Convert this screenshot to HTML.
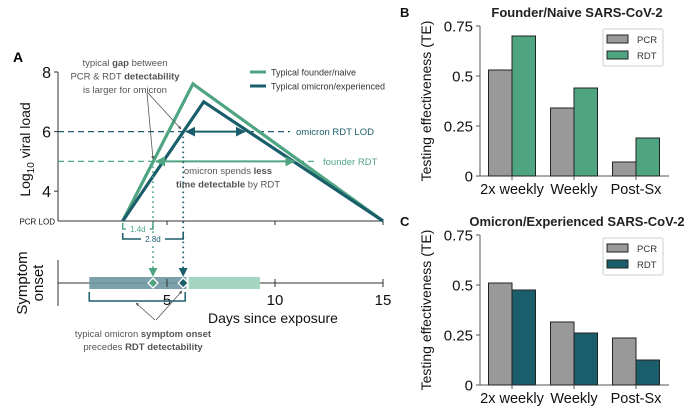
<!DOCTYPE html>
<html><head><meta charset="utf-8"><style>
body{margin:0;background:#fff}
svg{display:block;font-family:"Liberation Sans",Arial,sans-serif}
</style></head><body>
<svg id="fig" width="700" height="413" viewBox="0 0 700 413">
<defs>
<marker id="ahO" viewBox="0 0 10 10" refX="9" refY="5" markerWidth="5" markerHeight="5" orient="auto-start-reverse"><path d="M0,0L10,5L0,10z" fill="#1b5e6b"/></marker>
<marker id="ahF" viewBox="0 0 10 10" refX="9" refY="5" markerWidth="5" markerHeight="5" orient="auto-start-reverse"><path d="M0,0L10,5L0,10z" fill="#4fa582"/></marker>
<marker id="ahG" viewBox="0 0 10 10" refX="9" refY="5" markerWidth="4" markerHeight="4" orient="auto"><path d="M0,0L10,5L0,10z" fill="#555"/></marker>
</defs>
<g id="panelA">
<text x="13" y="62" font-size="14" font-weight="bold">A</text>
<g id="aAxes"></g>
<g id="aMarks"></g>
<text x="125" y="66" font-size="9.5" fill="#555" text-anchor="middle"><tspan x="125">typical <tspan font-weight="bold">gap</tspan> between</tspan><tspan x="125" dy="13.5">PCR &amp; RDT <tspan font-weight="bold">detectability</tspan></tspan><tspan x="125" dy="13.5">is larger for omicron</tspan></text>
<line x1="147" y1="93" x2="153" y2="159" stroke="#555" stroke-width="0.8" marker-end="url(#ahG)"/>
<line x1="148" y1="93" x2="181" y2="129" stroke="#555" stroke-width="0.8" marker-end="url(#ahG)"/>
<text x="228" y="174" font-size="9.5" fill="#555" text-anchor="middle"><tspan x="228">omicron spends <tspan font-weight="bold">less</tspan></tspan><tspan x="228" dy="13.5"><tspan font-weight="bold">time detectable</tspan> by RDT</tspan></text>
<g>
<line x1="250" y1="72" x2="266" y2="72" stroke="#4fa582" stroke-width="3"/>
<text x="271" y="75.5" font-size="9" fill="#333">Typical founder/naive</text>
<line x1="250" y1="86" x2="266" y2="86" stroke="#1b5e6b" stroke-width="3"/>
<text x="271" y="89.5" font-size="9" fill="#333">Typical omicron/experienced</text>
</g>
<text x="143" y="337" font-size="9.5" fill="#555" text-anchor="middle"><tspan x="143">typical omicron <tspan font-weight="bold">symptom onset</tspan></tspan><tspan x="143" dy="13">precedes <tspan font-weight="bold">RDT detectability</tspan></tspan></text>
<line x1="155" y1="320" x2="136" y2="303" stroke="#555" stroke-width="0.8" marker-end="url(#ahG)"/>
<line x1="156" y1="320" x2="182" y2="291" stroke="#555" stroke-width="0.8" marker-end="url(#ahG)"/>
</g>
<g id="panelB"></g>
<g id="panelC"></g>
</svg>
<script>
// Panel A data
const vlDays = [2.95, 6.2, 15];
const founderLoad = [3, 7.6, 3];
const omicronDays = [2.95, 6.7, 15];
const omicronLoad = [3, 7.0, 3];
const founderRDT = 5;
const omicronRDT = 6;
const aYTicks = [4, 6, 8];
const aXTicks = [5, 10, 15];
const founderDetectDay = 4.35;
const omicronDetectDay = 5.75;
const onsetDarkRange = [1.4, 5.9];
const onsetLightRange = [6.0, 9.3];
// Panel B/C data
const categories = ["2x weekly", "Weekly", "Post-Sx"];
const founderPCR = [0.53, 0.34, 0.07];
const founderRDTte = [0.70, 0.44, 0.19];
const omicronPCR = [0.51, 0.315, 0.235];
const omicronRDTte = [0.475, 0.26, 0.125];
const teTicks = [0, 0.25, 0.5, 0.75];
const teTickLabels = ["0", "0.25", "0.5", "0.75"];

const NS = "http://www.w3.org/2000/svg";
function mk(parent, tag, attrs, text){
  const e = document.createElementNS(NS, tag);
  for (const k in attrs) e.setAttribute(k, attrs[k]);
  if (text !== undefined) e.textContent = text;
  parent.appendChild(e); return e;
}
const FC = "#4fa582", OC = "#1b5e6b";
const xA = d => 59 + d * 21.6;
const yA = v => 221 - (v - 3) * 29.8;

const ax = document.getElementById("aAxes");
let e;
e = mk(ax, "line", {x1:58,y1:yA(8),x2:58,y2:yA(3),stroke:"#333","stroke-width":1});


e = mk(ax, "line", {x1:58,y1:yA(3),x2:xA(15),y2:yA(3),stroke:"#333","stroke-width":1});


aYTicks.forEach(t => {
  mk(ax, "line", {x1:54,y1:yA(t),x2:58,y2:yA(t),stroke:"#333"});
  e = mk(ax, "text", {x:51,y:yA(t)+6,"font-size":16,"text-anchor":"end",fill:"#111"}, String(t));
  
  
});
e = mk(ax, "text", {x:55,y:yA(3)+3.5,"font-size":8,"text-anchor":"end",fill:"#111"}, "PCR LOD");


aXTicks.forEach(t => { mk(ax, "line", {x1:xA(t),y1:yA(3),x2:xA(t),y2:yA(3)+4,stroke:"#333"}); });
e = mk(ax, "text", {x:0,y:0,"font-size":14,"text-anchor":"middle",fill:"#111",transform:"translate(30,"+yA(5.4)+") rotate(-90)"});
e.innerHTML = 'Log<tspan font-size="10" dy="4">10</tspan><tspan dy="-4"> viral load</tspan>';



const mg = document.getElementById("aMarks");
e = mk(mg, "line", {x1:58,y1:yA(omicronRDT),x2:290,y2:yA(omicronRDT),stroke:OC,"stroke-width":1.3,"stroke-dasharray":"6,4"});


e = mk(mg, "text", {x:296,y:yA(omicronRDT)+3.5,"font-size":9.5,fill:OC}, "omicron RDT LOD");


e = mk(mg, "line", {x1:58,y1:yA(founderRDT),x2:318,y2:yA(founderRDT),stroke:FC,"stroke-width":1.3,"stroke-dasharray":"6,4"});


e = mk(mg, "text", {x:323,y:yA(founderRDT)+3.5,"font-size":9.5,fill:FC}, "founder RDT");


e = mk(mg, "polyline", {points: vlDays.map((d,i)=>xA(d)+","+yA(founderLoad[i])).join(" "), fill:"none", stroke:FC, "stroke-width":3.2});


e = mk(mg, "polyline", {points: omicronDays.map((d,i)=>xA(d)+","+yA(omicronLoad[i])).join(" "), fill:"none", stroke:OC, "stroke-width":3.2});


e = mk(mg, "line", {x1:xA(omicronDetectDay)+3,y1:yA(omicronRDT),x2:xA(8.6),y2:yA(omicronRDT),stroke:OC,"stroke-width":2,"marker-start":"url(#ahO)","marker-end":"url(#ahO)"});


e = mk(mg, "line", {x1:xA(founderDetectDay)+3,y1:yA(founderRDT),x2:xA(10.9),y2:yA(founderRDT),stroke:FC,"stroke-width":2,"marker-start":"url(#ahF)","marker-end":"url(#ahF)"});


e = mk(mg, "line", {x1:xA(founderDetectDay),y1:yA(founderRDT),x2:xA(founderDetectDay),y2:276,stroke:FC,"stroke-width":1.8,"stroke-dasharray":"1.5,3.5","marker-end":"url(#ahF)"});


e = mk(mg, "line", {x1:xA(omicronDetectDay),y1:yA(omicronRDT),x2:xA(omicronDetectDay),y2:276,stroke:OC,"stroke-width":1.8,"stroke-dasharray":"1.5,3.5","marker-end":"url(#ahO)"});


function bracket(x1,x2,y,c,label,name){
  const g = mk(mg,"g",{});
  
  
  mk(g,"polyline",{points:`${x1},${y-6} ${x1},${y} ${x2},${y} ${x2},${y-6}`,fill:"none",stroke:c,"stroke-width":1.5});
  const mx=(x1+x2)/2;
  mk(g,"rect",{x:mx-12,y:y-5,width:24,height:10,fill:"#fff"});
  mk(g,"text",{x:mx,y:y+3,"font-size":8,"text-anchor":"middle",fill:c},label);
}
bracket(xA(vlDays[0]),xA(founderDetectDay),229,FC,(founderDetectDay-vlDays[0]).toFixed(1)+"d","founder-gap-bracket");
bracket(xA(vlDays[0]),xA(omicronDetectDay),239,OC,(omicronDetectDay-vlDays[0]).toFixed(1)+"d","omicron-gap-bracket");
const ys = 283;
e = mk(mg,"line",{x1:58,y1:260,x2:58,y2:306,stroke:"#333"});


e = mk(mg,"line",{x1:58,y1:ys,x2:xA(15),y2:ys,stroke:"#333"});


e = mk(mg,"rect",{x:xA(onsetDarkRange[0]),y:ys-6,width:xA(onsetDarkRange[1])-xA(onsetDarkRange[0]),height:12,fill:"#6f97a1",opacity:0.9});


e = mk(mg,"rect",{x:xA(onsetLightRange[0]),y:ys-6,width:xA(onsetLightRange[1])-xA(onsetLightRange[0]),height:12,fill:"#a4d6c1"});


aXTicks.forEach(t => {
  mk(mg,"line",{x1:xA(t),y1:ys-4,x2:xA(t),y2:ys+4,stroke:"#333"});
  e = mk(mg,"text",{x:xA(t),y:ys+22,"font-size":15,"text-anchor":"middle",fill:"#111"},String(t));
  
  
});
[[founderDetectDay,FC,"founder-detect-diamond"],[omicronDetectDay,OC,"omicron-detect-diamond"]].forEach(([d,c,n])=>{
  const x=xA(d);
  e = mk(mg,"polygon",{points:`${x},${ys-5} ${x+5},${ys} ${x},${ys+5} ${x-5},${ys}`,fill:c,stroke:"#fff","stroke-width":1.3});
  
  
});
e = mk(mg,"polyline",{points:`${xA(onsetDarkRange[0])},${ys+9} ${xA(onsetDarkRange[0])},${ys+18} ${xA(omicronDetectDay)+2},${ys+18} ${xA(omicronDetectDay)+2},${ys+9}`,fill:"none",stroke:OC,"stroke-width":1.5});


e = mk(mg,"text",{x:273,y:323,"font-size":14,"text-anchor":"middle",fill:"#111"},"Days since exposure");


e = mk(mg,"text",{x:0,y:0,"font-size":15,"text-anchor":"middle",fill:"#111",transform:"translate(0,283) rotate(-90)"});
e.innerHTML='<tspan x="0" y="27">Symptom</tspan><tspan x="0" y="43">onset</tspan>';



function barPanel(id, letter, title, top, pcr, rdt, rdtColor){
  const g = document.getElementById(id);
  const y0 = top + 150, yS = v => y0 - v*200;
  const x0 = 480;
  let t;
  t = mk(g,"text",{x:400,y:top-9,"font-size":13,"font-weight":"bold",fill:"#111"},letter);
  
  
  t = mk(g,"text",{x:577,y:top-9,"font-size":13,"font-weight":"bold","text-anchor":"middle",fill:"#222"},title);
  
  
  mk(g,"line",{x1:x0,y1:yS(0.75),x2:x0,y2:y0,stroke:"#555","stroke-width":1});
  mk(g,"line",{x1:x0,y1:y0,x2:669,y2:y0,stroke:"#555","stroke-width":1});
  teTicks.forEach((v,i)=>{
    mk(g,"line",{x1:x0-4,y1:yS(v),x2:x0,y2:yS(v),stroke:"#555"});
    t = mk(g,"text",{x:x0-7,y:yS(v)+5.5,"font-size":15,"text-anchor":"end",fill:"#111"},teTickLabels[i]);
    
    
  });
  t = mk(g,"text",{x:0,y:0,"font-size":14,"text-anchor":"middle",fill:"#111",transform:`translate(431,${y0-75}) rotate(-90)`},"Testing effectiveness (TE)");
  
  
  const bw = 23.5;
  categories.forEach((c,i)=>{
    const cx = 512 + i*62;
    let r = mk(g,"rect",{x:cx-bw,y:yS(pcr[i]),width:bw,height:y0-yS(pcr[i]),fill:"#999",stroke:"#222","stroke-width":1});
    
    
    r = mk(g,"rect",{x:cx,y:yS(rdt[i]),width:bw,height:y0-yS(rdt[i]),fill:rdtColor,stroke:"#222","stroke-width":1});
    
    
    mk(g,"line",{x1:cx,y1:y0,x2:cx,y2:y0+4,stroke:"#555"});
    t = mk(g,"text",{x:cx,y:y0+18,"font-size":14.5,"text-anchor":"middle",fill:"#111"},c);
    
    
  });
  const lg = mk(g,"g",{});
  
  
  mk(lg,"rect",{x:603,y:top+3,width:60,height:37,fill:"#fff",stroke:"#ccc",rx:2});
  mk(lg,"rect",{x:607,y:top+9,width:21,height:8,fill:"#999",stroke:"#222"});
  mk(lg,"text",{x:637,y:top+17,"font-size":9.5,fill:"#333"},"PCR");
  mk(lg,"rect",{x:607,y:top+25,width:21,height:8,fill:rdtColor,stroke:"#222"});
  mk(lg,"text",{x:637,y:top+33,"font-size":9.5,fill:"#333"},"RDT");
}
barPanel("panelB","B","Founder/Naive SARS-CoV-2",26,founderPCR,founderRDTte,"#4fa582");
barPanel("panelC","C","Omicron/Experienced SARS-CoV-2",235,omicronPCR,omicronRDTte,"#1b5e6b");
</script>
</body></html>
